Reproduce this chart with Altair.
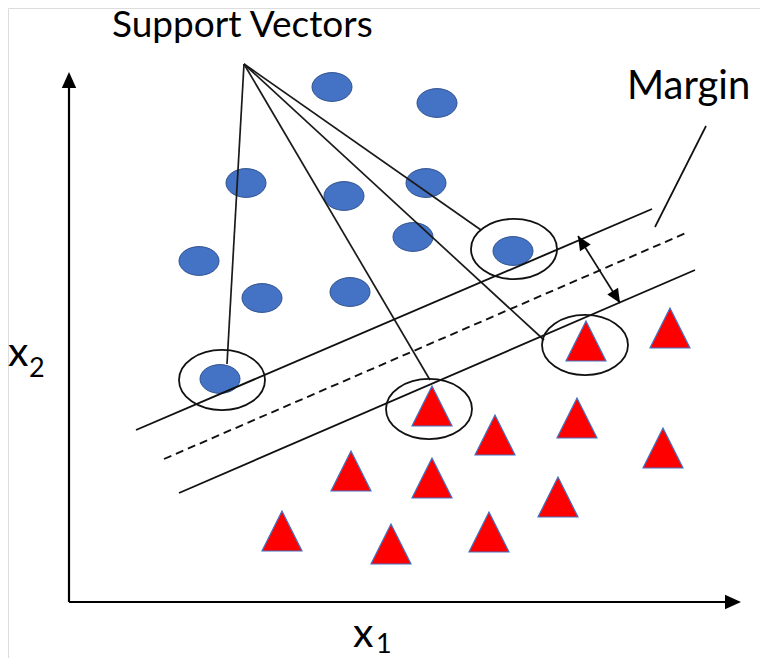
import altair as alt
import pandas as pd

# ---- data (positions, in reference pixel units) ----
blue_x = [332, 437, 246, 344, 426, 413, 199, 262, 350, 513, 220]
blue_y = [87, 103, 183, 196, 183, 237, 261, 298, 292, 251, 379]

red_x = [586, 670, 432, 495, 577, 663, 351, 432, 558, 282, 391, 489]
red_y = [341, 328, 406, 435, 418, 448, 471, 478, 497, 531, 544, 532]

# support vector rings
ring_x = [222, 514, 429, 585]
ring_y = [380, 249, 409, 345]

# pointer lines from the "Support Vectors" label
ptr_x0 = [244, 244, 244, 244]
ptr_y0 = [64, 64, 64, 64]
ptr_x1 = [227, 481, 430, 544]
ptr_y1 = [364, 230, 380, 340]

# margin boundaries (solid) and hyperplane (dashed)
margin_x0 = [136, 179]
margin_y0 = [430, 493]
margin_x1 = [652, 695]
margin_y1 = [209, 270]
hyper_x0, hyper_y0, hyper_x1, hyper_y1 = [164], [459], [686], [233]

# other segments: margin label pointer, double arrow shaft
seg_x0 = [706, 578]
seg_y0 = [126, 236]
seg_x1 = [655, 620]
seg_y1 = [227, 303]

# axes
axis_x0 = [69, 69]
axis_y0 = [602, 602]
axis_x1 = [69, 739]
axis_y1 = [76, 602]
axis_head_x = [69, 741]
axis_head_y = [72, 602]
axis_head_angle = [0, 90]

arrow_head_x = [578, 620]
arrow_head_y = [236, 303]
arrow_head_angle = [328.4, 148.4]

labels = ["Support Vectors", "Margin", "x", "2", "x", "1"]
label_x = [112, 627, 8, 29, 353, 376]
label_y = [37, 99, 366, 377, 647, 653]
label_size = [37, 40, 41, 27, 41, 27]

# ---- helpers ----
W, H = 752, 650
xs = alt.Scale(domain=[8, 8 + W])
ys = alt.Scale(domain=[8, 8 + H], reverse=True)


def X(f="x"):
    return alt.X(f"{f}:Q", scale=xs, axis=None)


def Y(f="y"):
    return alt.Y(f"{f}:Q", scale=ys, axis=None)


def segs(x0, y0, x1, y1):
    return pd.DataFrame({"x": x0, "y": y0, "x2": x1, "y2": y1})


ellipse_dot = ("M-1,0C-1,-0.398 -0.552,-0.72 0,-0.72C0.552,-0.72 1,-0.398 1,0"
               "C1,0.398 0.552,0.72 0,0.72C-0.552,0.72 -1,0.398 -1,0Z")
ellipse_ring = ("M-1,0C-1,-0.387 -0.552,-0.7 0,-0.7C0.552,-0.7 1,-0.387 1,0"
                "C1,0.387 0.552,0.7 0,0.7C-0.552,0.7 -1,0.387 -1,0Z")
tri = "M0,-1L-1,1L1,1Z"
head = "M0,0L-0.45,1L0.45,1Z"

# ---- layers ----
axes = alt.Chart(segs(axis_x0, axis_y0, axis_x1, axis_y1)).mark_rule(
    color="black", strokeWidth=2.2
).encode(x=X(), y=Y(), x2="x2:Q", y2="y2:Q")

axis_heads = alt.Chart(pd.DataFrame({"x": axis_head_x, "y": axis_head_y, "a": axis_head_angle})).mark_point(
    shape=head, size=1024, filled=True, color="black", opacity=1
).encode(x=X(), y=Y(), angle=alt.Angle("a:Q", scale=None))

pointers = alt.Chart(segs(ptr_x0, ptr_y0, ptr_x1, ptr_y1)).mark_rule(
    color="#1a1a1a", strokeWidth=1.7
).encode(x=X(), y=Y(), x2="x2:Q", y2="y2:Q")

margins = alt.Chart(segs(margin_x0, margin_y0, margin_x1, margin_y1)).mark_rule(
    color="#111111", strokeWidth=1.9
).encode(x=X(), y=Y(), x2="x2:Q", y2="y2:Q")

hyper = alt.Chart(segs(hyper_x0, hyper_y0, hyper_x1, hyper_y1)).mark_rule(
    color="#111111", strokeWidth=1.9, strokeDash=[8, 5]
).encode(x=X(), y=Y(), x2="x2:Q", y2="y2:Q")

others = alt.Chart(segs(seg_x0, seg_y0, seg_x1, seg_y1)).mark_rule(
    color="#111111", strokeWidth=1.7
).encode(x=X(), y=Y(), x2="x2:Q", y2="y2:Q")

arrow_heads = alt.Chart(pd.DataFrame({"x": arrow_head_x, "y": arrow_head_y, "a": arrow_head_angle})).mark_point(
    shape=head, size=784, filled=True, color="black", opacity=1
).encode(x=X(), y=Y(), angle=alt.Angle("a:Q", scale=None))

blue = alt.Chart(pd.DataFrame({"x": blue_x, "y": blue_y})).mark_point(
    shape=ellipse_dot, size=1600, filled=True, fill="#4472C4", stroke="#2F528F",
    strokeWidth=1, opacity=1
).encode(x=X(), y=Y())

red = alt.Chart(pd.DataFrame({"x": red_x, "y": red_y})).mark_point(
    shape=tri, size=1600, filled=True, fill="#FF0000", stroke="#4472C4",
    strokeWidth=1.2, opacity=1
).encode(x=X(), y=Y())

rings = alt.Chart(pd.DataFrame({"x": ring_x, "y": ring_y})).mark_point(
    shape=ellipse_ring, size=7396, filled=False, stroke="#111111",
    strokeWidth=1.8, opacity=1
).encode(x=X(), y=Y())

text = alt.Chart(pd.DataFrame({"t": labels, "x": label_x, "y": label_y, "s": label_size})).mark_text(
    align="left", baseline="alphabetic", font="Lato", color="black"
).encode(x=X(), y=Y(), text="t:N", size=alt.Size("s:Q", scale=None))

chart = alt.layer(
    axes, axis_heads, blue, red, pointers, margins, hyper, others, arrow_heads, rings, text
).properties(
    width=W, height=H, padding=0, autosize=alt.AutoSizeParams(type="none")
).configure_view(stroke="transparent", strokeWidth=0).configure(background="white")

chart.save("out.html", embed_options={"renderer": "svg", "actions": False})
